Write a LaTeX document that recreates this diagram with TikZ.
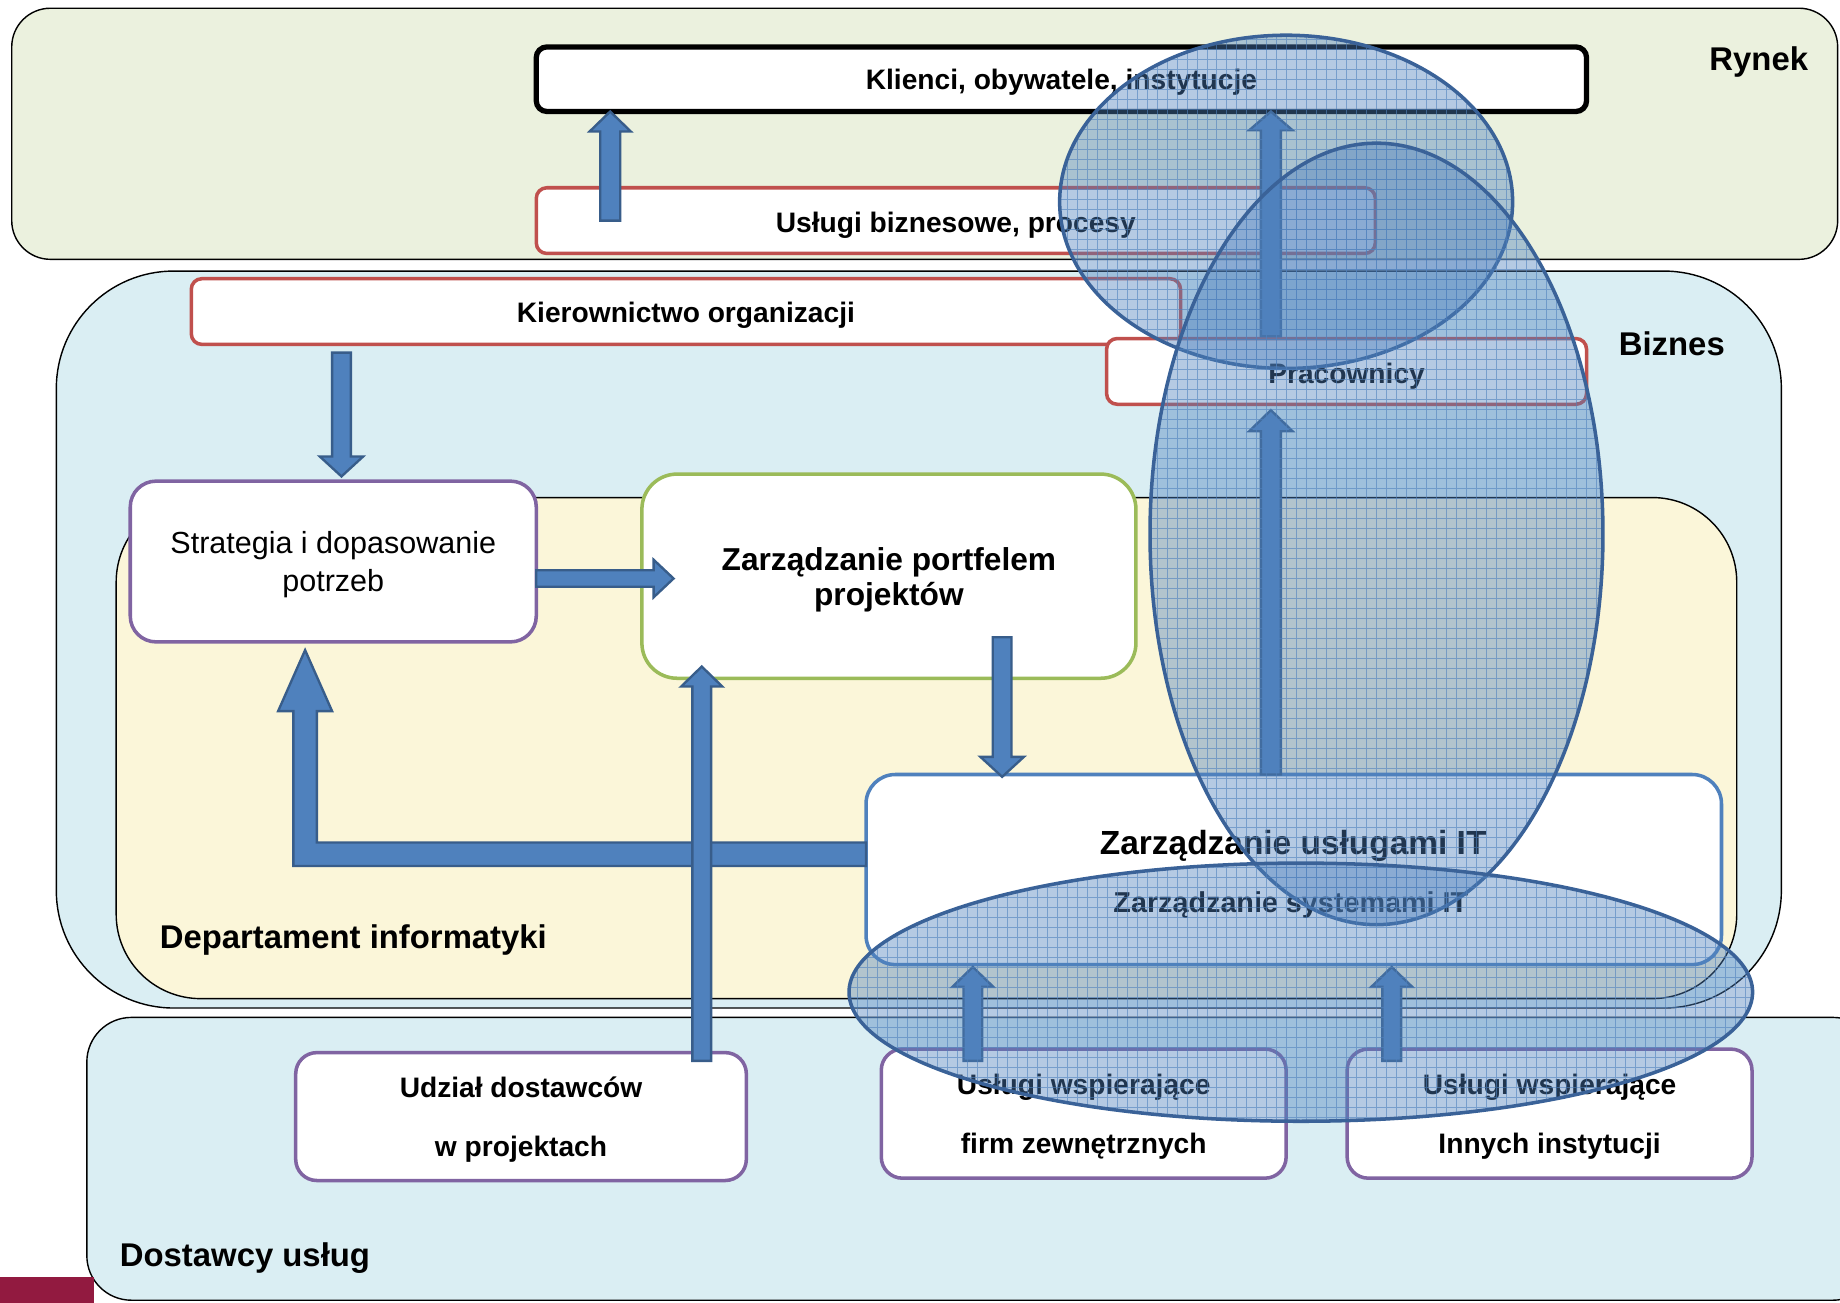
\documentclass[tikz,border=0pt]{standalone}
\usepackage{fontspec}
\setmainfont{Liberation Sans}
\usetikzlibrary{calc}
\definecolor{rynekfill}{HTML}{EBF1DE}
\definecolor{bizfill}{HTML}{DAEEF3}
\definecolor{depfill}{HTML}{FBF6D9}
\definecolor{redb}{HTML}{C0504D}
\definecolor{purpleb}{HTML}{8064A2}
\definecolor{greenb}{HTML}{9BBB59}
\definecolor{blueb}{HTML}{4F81BD}
\definecolor{arrowb}{HTML}{385D8A}
\definecolor{ellb}{HTML}{3A6298}
\definecolor{maroonc}{HTML}{921A40}

\newcommand{\blockarr}[5]{%
  \coordinate (ba-s) at (#4);
  \coordinate (ba-e) at (#5);
  \coordinate (ba-h) at ($(ba-e)!#3!(ba-s)$);
  \draw[blockarrow] ($(ba-s)!#1!90:(ba-e)$) -- ($(ba-h)!#1!90:(ba-e)$) -- ($(ba-h)!#2!90:(ba-e)$) -- (ba-e) -- ($(ba-h)!#2!-90:(ba-e)$) -- ($(ba-h)!#1!-90:(ba-e)$) -- ($(ba-s)!#1!-90:(ba-e)$) -- cycle;
}

\tikzset{
  region/.style={draw=black, line width=1.2pt},
  box/.style={draw, fill=white, line width=3pt, inner sep=0pt, outer sep=0pt, align=center},
  medtext/.style={font=\fontsize{24}{28}\selectfont\bfseries, text depth=-2pt},
  reglabel/.style={font=\fontsize{28}{32}\selectfont\bfseries, inner sep=0pt},
  blockarrow/.style={fill=blueb, draw=arrowb, line width=2pt, line join=miter},
  gridline/.style={draw=blueb, line width=0.7pt, opacity=0.6},
  ellborder/.style={draw=ellb, line width=3pt},
  supbox/.style={box, draw=purpleb, rounded corners=18pt, minimum height=110pt, font=\fontsize{24}{50}\selectfont\bfseries, text depth=-4pt},
}

\begin{document}
\begin{tikzpicture}[x=1pt, y=-1pt]
\useasboundingbox (0,0) rectangle (1568,1110);
\clip (0,0) rectangle (1568,1110);

% regions
\path[region, fill=rynekfill, rounded corners=33pt] (10,7) rectangle (1566,221);
\path[region, fill=bizfill, rounded corners=100pt] (48,231) rectangle (1518,859);
\path[region, fill=depfill, rounded corners=72pt] (99,424) rectangle (1480,851);
\path[region, fill=bizfill, rounded corners=38pt] (74,867) rectangle (1600,1108);
\fill[maroonc] (0,1088) rectangle (80,1110);

% region labels
\node[reglabel, anchor=base east] (lrynek) at (1541,60) {Rynek};
\node[reglabel, anchor=base east] (lbiz) at (1470,303) {Biznes};
\node[reglabel, anchor=base west] (ldep) at (136,808) {Departament informatyki};
\node[reglabel, anchor=base west] (ldost) at (102,1079) {Dostawcy usług};

% boxes
\node[box, medtext, draw=black, line width=4.5pt, rounded corners=9pt, minimum width=895pt, minimum height=55pt] (kl) at (904.5,67.5) {Klienci, obywatele, instytucje};
\node[box, medtext, draw=redb, rounded corners=9pt, minimum width=715pt, minimum height=56pt] (ub) at (814.5,188) {\raisebox{-3pt}{Usługi biznesowe, procesy}};
\node[box, medtext, draw=redb, rounded corners=9pt, minimum width=843pt, minimum height=56pt] (kier) at (584.5,265.5) {\raisebox{-1pt}{Kierownictwo organizacji}};
\node[box, medtext, draw=redb, rounded corners=9pt, minimum width=409pt, minimum height=56pt] (prac) at (1147.5,316.5) {\raisebox{-3pt}{Pracownicy}};
\node[box, draw=purpleb, rounded corners=22pt, minimum width=346pt, minimum height=137pt, font=\fontsize{26}{33}\selectfont, text depth=-1pt] (strat) at (284,478.5) {Strategia i dopasowanie\\potrzeb};
\node[box, draw=greenb, rounded corners=30pt, minimum width=421pt, minimum height=174pt, font=\fontsize{27}{30}\selectfont\bfseries, text depth=-1.5pt] (port) at (757.5,491) {Zarządzanie portfelem\\projektów};
\node[box, draw=blueb, rounded corners=25pt, minimum width=729pt, minimum height=162pt] (it) at (1102.5,741) {};
\node[anchor=base, inner sep=0pt, font=\fontsize{28.5}{32}\selectfont\bfseries] (ittitle) at (1102,728) {Zarządzanie usługami IT};
\node[anchor=base, inner sep=0pt, font=\fontsize{24.5}{28}\selectfont\bfseries] (itsub) at (1100,778) {Zarządzanie systemami IT};
\node[supbox, minimum width=384pt, minimum height=109pt] (udz) at (444,951.5) {Udział dostawców\\w projektach};
\node[supbox, minimum width=345pt] (fz) at (923.5,949) {Usługi wspierające\\firm zewnętrznych};
\node[supbox, minimum width=345pt] (ii) at (1320.5,949) {Usługi wspierające\\Innych instytucji};

% arrow axis coordinates
\coordinate (xA) at (520,0);
\coordinate (xB) at (291,0);
\coordinate (yC) at (0,493);
\coordinate (xD) at (854,0);
\coordinate (xE) at (1083,0);
\coordinate (xG) at (598,0);
\coordinate (xH) at (829,0);
\coordinate (xI) at (1186,0);

% block arrows
\blockarr{8.5pt}{17.5pt}{17pt}{ub.center -| xA}{kl.south -| xA}
\blockarr{8pt}{18.5pt}{17pt}{$(kier.south -| xB)+(0,7)$}{$(strat.north -| xB)+(0,-4)$}
\blockarr{7pt}{16pt}{17pt}{strat.east |- yC}{$(port.west |- yC)+(27,0)$}
\blockarr{8pt}{18.5pt}{17pt}{$(port.south -| xD)+(0,-35)$}{$(it.north -| xD)+(0,2)$}
\blockarr{8.5pt}{18.5pt}{18pt}{it.north -| xE}{$(prac.south -| xE)+(0,5)$}
\blockarr{8.5pt}{18.5pt}{16pt}{$(prac.north -| xE)+(0,-2)$}{kl.south -| xE}

% L-shaped arrow from IT services to strategy
\coordinate (Ltip) at ($(strat.south)+(-24,7)$);
\draw[blockarrow] ($(it.west)+(0,-23)$) -- ($(Ltip |- it.west)+(10,-23)$) -- ($(Ltip)+(10,52)$) -- ($(Ltip)+(23,52)$) -- (Ltip) -- ($(Ltip)+(-23,52)$) -- ($(Ltip)+(-10,52)$) -- ($(Ltip |- it.west)+(-10,-3)$) -- ($(it.west)+(0,-3)$) -- cycle;

\blockarr{8pt}{17.5pt}{17pt}{$(udz.north -| xG)+(0,7)$}{$(port.south -| xG)+(0,-10)$}
\blockarr{8pt}{17.5pt}{17pt}{$(fz.north -| xH)+(0,10)$}{$(it.south -| xH)+(0,2)$}
\blockarr{8pt}{17.5pt}{17pt}{$(ii.north -| xI)+(0,10)$}{$(it.south -| xI)+(0,2)$}

% translucent gridded ellipses
\foreach \cx/\cy/\rx/\ry/\nm in {1096/172/193/142/ellA, 1173/455/193/333/ellB, 1108.5/845.5/385/110/ellC} {
  \begin{scope}
    \clip (\cx,\cy) ellipse [x radius=\rx pt, y radius=\ry pt];
    \fill[blueb, fill opacity=0.42] (\cx-\rx,\cy-\ry) rectangle (\cx+\rx,\cy+\ry);
    \draw[gridline, step=8.5pt] (\cx-\rx-10,\cy-\ry-10) grid (\cx+\rx+10,\cy+\ry+10);
  \end{scope}
  \draw[ellborder] (\cx,\cy) ellipse [x radius=\rx pt, y radius=\ry pt];
}
\end{tikzpicture}
\end{document}
